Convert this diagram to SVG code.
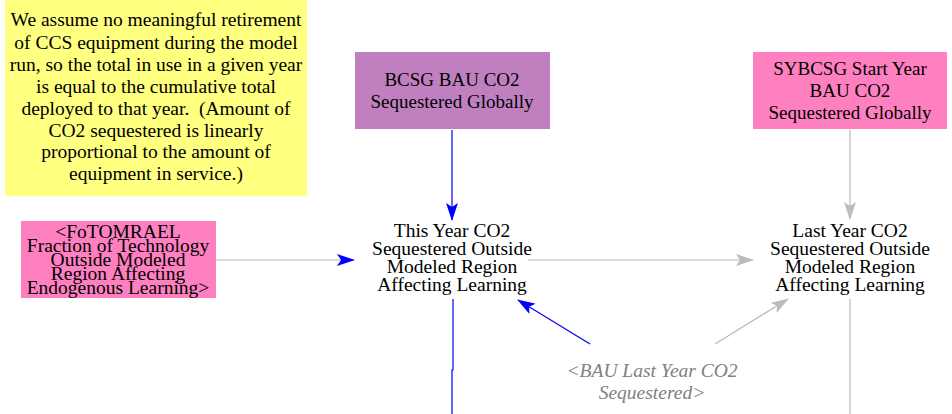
<svg xmlns="http://www.w3.org/2000/svg" width="952" height="414" viewBox="0 0 952 414" font-family="'Liberation Serif', 'Times New Roman', serif" font-size="19.5">
<defs>
<style>
text{font-family:'Liberation Serif','Times New Roman',serif;font-size:19.5px;fill:#000;text-anchor:middle}
.box{font-size:19px}
.ghost{fill:#808080;font-style:italic}
.blue{stroke:#0000ff;stroke-width:1.2;fill:none}
.gray{stroke:#b8b8b8;stroke-width:1.2;fill:none}
</style>
<marker id="ab" markerWidth="18" markerHeight="12" refX="17" refY="6" orient="auto" markerUnits="userSpaceOnUse"><path d="M0,0 L18,6 L0,12 L4,6 Z" fill="#0000ff"/></marker>
<marker id="ag" markerWidth="18" markerHeight="12" refX="17" refY="6" orient="auto" markerUnits="userSpaceOnUse"><path d="M0,0 L18,6 L0,12 L4,6 Z" fill="#bcbcbc"/></marker>
</defs>
<rect width="952" height="414" fill="#fff"/>
<g id="note">
<rect x="5" y="0" width="302" height="196" fill="#ffff80"/>
<text x="156" y="26">We assume no meaningful retirement</text>
<text x="156" y="49">of CCS equipment during the model</text>
<text x="156" y="71">run, so the total in use in a given year</text>
<text x="156" y="93">is equal to the cumulative total</text>
<text x="156" y="115" xml:space="preserve">deployed to that year.  (Amount of</text>
<text x="156" y="137">CO2 sequestered is linearly</text>
<text x="156" y="158">proportional to the amount of</text>
<text x="156" y="180">equipment in service.)</text>
</g>
<g id="bcsg">
<rect x="355" y="52" width="195" height="77" fill="#c080c0"/>
<text class="box" x="452" y="86">BCSG BAU CO2</text>
<text class="box" x="452" y="108">Sequestered Globally</text>
</g>
<g id="sybcsg">
<rect x="753" y="52" width="194" height="77" fill="#ff80c0"/>
<text class="box" x="850" y="75">SYBCSG Start Year</text>
<text class="box" x="850" y="97">BAU CO2</text>
<text class="box" x="850" y="119">Sequestered Globally</text>
</g>
<g id="fotomrael">
<rect x="21" y="221" width="195" height="77" fill="#ff80c0"/>
<text x="118" y="238">&lt;FoTOMRAEL</text>
<text x="118" y="252">Fraction of Technology</text>
<text x="118" y="266">Outside Modeled</text>
<text x="118" y="280">Region Affecting</text>
<text x="118" y="294">Endogenous Learning&gt;</text>
</g>
<g id="thisyear">
<text x="452" y="237">This Year CO2</text>
<text x="452" y="255">Sequestered Outside</text>
<text x="452" y="273">Modeled Region</text>
<text x="452" y="291">Affecting Learning</text>
</g>
<g id="lastyear">
<text x="850" y="237">Last Year CO2</text>
<text x="850" y="255">Sequestered Outside</text>
<text x="850" y="273">Modeled Region</text>
<text x="850" y="291">Affecting Learning</text>
</g>
<g id="baulast">
<text class="ghost" x="652" y="377">&lt;BAU Last Year CO2</text>
<text class="ghost" x="652" y="399">Sequestered&gt;</text>
</g>
<g id="connectors">
<path class="blue" d="M452,130 L452,220" marker-end="url(#ab)"/>
<path class="gray" d="M216,260 L354,260" marker-end="url(#ab)"/>
<path class="gray" d="M528,260 L753,260" marker-end="url(#ag)"/>
<path class="gray" d="M850,130 L850,219" marker-end="url(#ag)"/>
<path class="blue" d="M590,344 L518,300" marker-end="url(#ab)"/>
<path class="gray" d="M715,344 L788,299" marker-end="url(#ag)"/>
<path class="blue" d="M453,299 L453,370 L452,370 L452,414"/>
<path class="gray" d="M850,299 L850,414"/>
</g>
</svg>
